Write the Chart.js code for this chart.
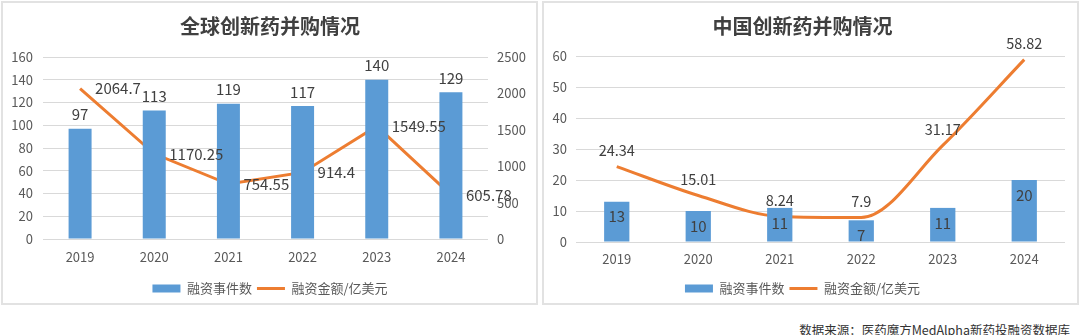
<!DOCTYPE html>
<html><head><meta charset="utf-8">
<script src="https://cdn.jsdelivr.net/npm/chart.js@4.4.1/dist/chart.umd.min.js"></script>
<style>
html,body{margin:0;padding:0;background:#fff;width:1080px;height:335px;overflow:hidden;font-family:"Noto Sans CJK SC",sans-serif;}
.panel{position:absolute;top:1px;height:304px;border:2px solid #e2e2e2;box-sizing:border-box;}
canvas{position:absolute;top:0}
#src{position:absolute;right:10px;top:321px;font-size:12.5px;line-height:18px;color:#333;}
</style></head><body>
<div class="panel" style="left:1px;width:537px"></div>
<div class="panel" style="left:542px;width:537px"></div>
<canvas id="c1" width="540" height="305" style="left:0"></canvas>
<canvas id="c2" width="540" height="305" style="left:540px"></canvas>
<div id="src">数据来源：医药魔方MedAlpha新药投融资数据库</div>
<script>
const years = ['2019','2020','2021','2022','2023','2024'];
const globalDeals = [97,113,119,117,140,129];
const globalAmount = [2064.7,1170.25,754.55,914.4,1549.55,605.78];
const chinaDeals = [13,10,11,7,11,20];
const chinaAmount = [24.34,15.01,8.24,7.9,31.17,58.82];
const seriesNames = ['融资事件数','融资金额/亿美元'];
const titles = ['全球创新药并购情况','中国创新药并购情况'];

const FAM = '"Noto Sans CJK SC", "Noto Sans", sans-serif';
const BLUE = '#5B9BD5', ORANGE = '#ED7D31';
const TICK = '#595959', LBL = '#404040', GRID = '#d9d9d9';

const labelPlugin = {
  id: 'vlabels',
  afterDatasetsDraw(chart) {
    const ctx = chart.ctx;
    chart.data.datasets.forEach((ds, i) => {
      const cfg = ds.labelCfg; if (!cfg) return;
      const meta = chart.getDatasetMeta(i);
      ctx.save();
      ctx.font = cfg.font; ctx.fillStyle = cfg.color; ctx.textBaseline = 'middle';
      meta.data.forEach((el, j) => {
        const t = String(ds.data[j]);
        let x = el.x, y = el.y;
        if (cfg.pos === 'top') { ctx.textAlign = 'center'; y -= cfg.off; }
        else if (cfg.pos === 'right') { ctx.textAlign = 'left'; x += cfg.off; }
        else if (cfg.pos === 'inside') { ctx.textAlign = 'center'; y += cfg.off; }
        ctx.fillText(t, x, y);
      });
      ctx.restore();
    });
  }
};

function legendOpts() {
  return {
    position: 'bottom',
    labels: {
      usePointStyle: true, pointStyleWidth: 28, boxHeight: 8, padding: 5,
      color: TICK, font: { size: 13, family: FAM },
      sort: (a, b) => a.datasetIndex - b.datasetIndex
    }
  };
}
function titleOpts(text, bottom) {
  return { display: true, text, color: LBL, font: { size: 20, weight: 'bold', family: FAM }, padding: { top: 14, bottom } };
}
const plain = v => String(v);

new Chart(document.getElementById('c1'), {
  type: 'bar',
  data: {
    labels: years,
    datasets: [
      { type: 'bar', label: seriesNames[0], data: globalDeals, backgroundColor: BLUE, borderWidth: 0,
        categoryPercentage: 1, barPercentage: 0.31, yAxisID: 'y', pointStyle: 'rect',
        labelCfg: { pos: 'top', off: 14, font: '15px ' + FAM, color: LBL } },
      { type: 'line', label: seriesNames[1], data: globalAmount, borderColor: ORANGE, backgroundColor: ORANGE,
        borderWidth: 3, pointRadius: 0, tension: 0, yAxisID: 'y1', pointStyle: 'line',
        labelCfg: { pos: 'right', off: 15, font: '15px ' + FAM, color: LBL } }
    ]
  },
  options: {
    responsive: false, animation: false, devicePixelRatio: 1,
    layout: { padding: { left: 0, right: 0, top: 0, bottom: 0 } },
    plugins: { legend: legendOpts(), title: titleOpts(titles[0], 19), tooltip: { enabled: false } },
    scales: {
      x: { grid: { display: false, drawTicks: false }, border: { display: false },
           ticks: { color: TICK, font: { size: 13, family: FAM }, padding: 10 },
           afterFit(s) { s.height = 38; } },
      y: { position: 'left', min: 0, max: 160, border: { display: false },
           grid: { color: GRID, drawTicks: false },
           ticks: { stepSize: 20, padding: 10, color: TICK, font: { size: 13, family: FAM }, callback: plain },
           afterFit(s) { s.width = 43; } },
      y1: { position: 'right', min: 0, max: 2500, border: { display: false },
            grid: { display: false, drawTicks: false },
            ticks: { stepSize: 500, padding: 9, color: TICK, font: { size: 13, family: FAM }, callback: plain },
            afterFit(s) { s.width = 52; } }
    }
  },
  plugins: [labelPlugin]
});

new Chart(document.getElementById('c2'), {
  type: 'bar',
  data: {
    labels: years,
    datasets: [
      { type: 'bar', label: seriesNames[0], data: chinaDeals, backgroundColor: BLUE, borderWidth: 0,
        categoryPercentage: 1, barPercentage: 0.31, pointStyle: 'rect',
        labelCfg: { pos: 'inside', off: 15, font: '15px ' + FAM, color: LBL } },
      { type: 'line', label: seriesNames[1], data: chinaAmount, borderColor: ORANGE, backgroundColor: ORANGE,
        borderWidth: 3, pointRadius: 0, cubicInterpolationMode: 'monotone', pointStyle: 'line',
        labelCfg: { pos: 'top', off: 16, font: '14.5px ' + FAM, color: LBL } }
    ]
  },
  options: {
    responsive: false, animation: false, devicePixelRatio: 1,
    layout: { padding: { left: 0, right: 15, top: 0, bottom: 0 } },
    plugins: { legend: legendOpts(), title: titleOpts(titles[1], 18), tooltip: { enabled: false } },
    scales: {
      x: { grid: { display: false, drawTicks: false }, border: { display: false },
           ticks: { color: TICK, font: { size: 13, family: FAM }, padding: 9 },
           afterFit(s) { s.height = 35; } },
      y: { position: 'left', min: 0, max: 60, border: { display: false },
           grid: { color: GRID, drawTicks: false },
           ticks: { stepSize: 10, padding: 9, color: TICK, font: { size: 13, family: FAM }, callback: plain },
           afterFit(s) { s.width = 36; } }
    }
  },
  plugins: [labelPlugin]
});
</script>
</body></html>
